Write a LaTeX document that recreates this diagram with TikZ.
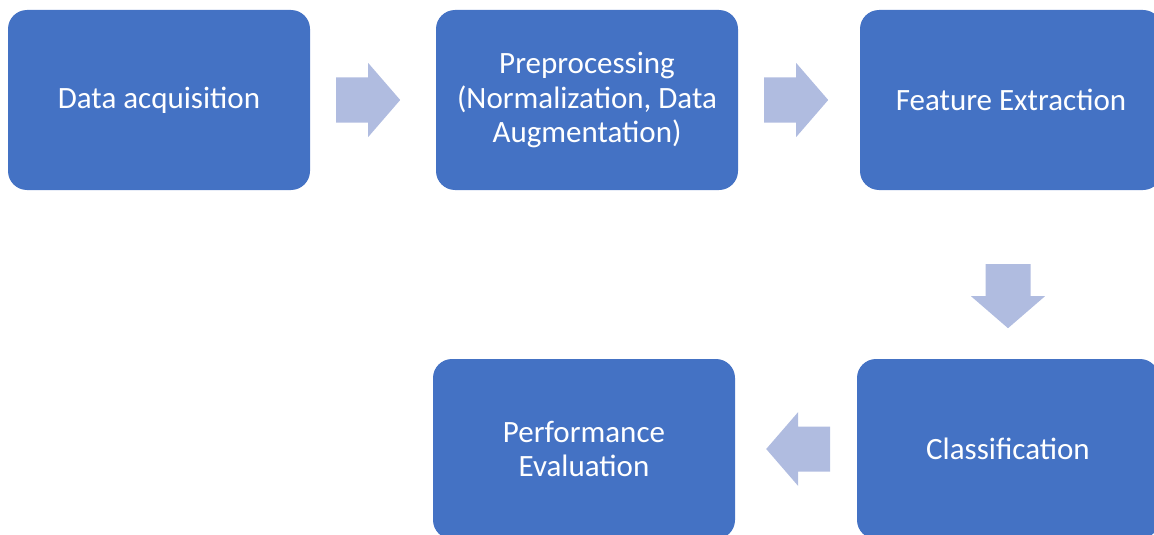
\documentclass[tikz,border=0pt]{standalone}
\usepackage{fontspec}
\setmainfont{Carlito}
\definecolor{boxblue}{HTML}{4472C4}
\definecolor{arrowblue}{HTML}{B0BCE0}
\tikzset{
  stepbox/.style={rectangle, rounded corners=19pt, fill=boxblue, draw=none,
    minimum width=302pt, minimum height=180pt, inner sep=0pt,
    text=white, align=center, font=\fontsize{31}{34.5}\selectfont},
  blockarrow/.pic={
    \fill[arrowblue] (-32,-22.5) -- (0,-22.5) -- (0,-37) -- (32,0)
      -- (0,37) -- (0,22.5) -- (-32,22.5) -- cycle;
  }
}
\begin{document}
\begin{tikzpicture}[x=1pt,y=-1pt]
  \useasboundingbox (0,0) rectangle (1154,535);
  \clip (0,0) rectangle (1154,535);
  % process steps
  \node[stepbox] (acq)  at (159,100)  {Data acquisition};
  \node[stepbox] (prep) at (587,100)  {Preprocessing\\(Normalization, Data\\Augmentation)};
  \node[stepbox] (feat) at (1011,100) {Feature Extraction};
  \node[stepbox] (cls)  at (1008,449) {Classification};
  \node[stepbox] (perf) at (584,449)  {Performance\\Evaluation};
  % flow arrows between the steps
  \pic at ([xshift=58pt]acq.east) {blockarrow};
  \pic at ([xshift=58pt]prep.east) {blockarrow};
  \pic[rotate=-90] at ([yshift=-106pt]feat.south -| cls.north) {blockarrow};
  \pic[rotate=180] at ([xshift=63pt]perf.east) {blockarrow};
\end{tikzpicture}
\end{document}
